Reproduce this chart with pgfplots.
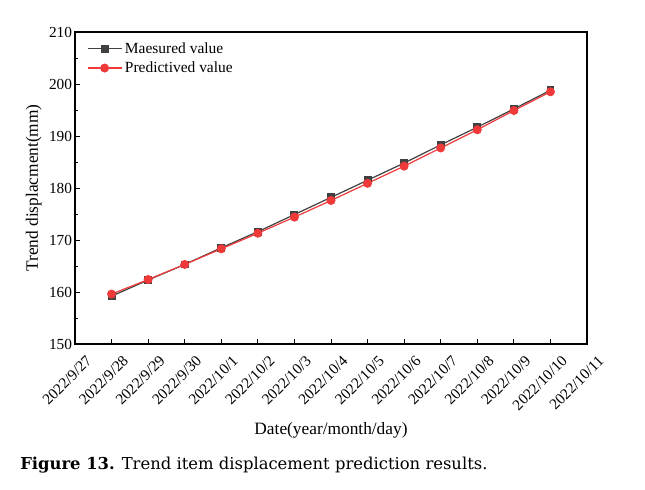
\documentclass[border=0pt]{standalone}
\usepackage{pgfplots}
\pgfplotsset{compat=1.18}
\usepackage{fontspec}
\setmainfont{Liberation Serif}
\newfontfamily\capfont{DejaVu Serif}
\definecolor{meas}{HTML}{404040}
\definecolor{pred}{HTML}{F03A3A}
\begin{document}
\begin{tikzpicture}[x=0.75pt,y=0.75pt]
\path[use as bounding box] (-75,-145) rectangle (570,344);
\begin{axis}[
  at={(0,0)}, anchor=south west,
  scale only axis, width=384pt, height=234pt,
  xmin=0, xmax=14, ymin=150, ymax=210,
  xtick={0,...,14},
  xticklabels={2022/9/27,2022/9/28,2022/9/29,2022/9/30,2022/10/1,2022/10/2,2022/10/3,2022/10/4,2022/10/5,2022/10/6,2022/10/7,2022/10/8,2022/10/9,2022/10/10,2022/10/11},
  x tick label style={rotate=45, anchor=north east, font=\fontsize{11.5}{12}\selectfont, inner sep=1pt, xshift=1pt, yshift=-10pt},
  ytick={150,160,...,210},
  minor y tick num=1,
  y tick label style={font=\fontsize{11.5}{12}\selectfont, inner sep=2pt},
  tick align=inside,
  xtick pos=bottom, ytick pos=left,
  major tick length=4pt, minor tick length=2.5pt,
  /pgf/number format/assume math mode=true,
  xlabel={Date(year/month/day)}, ylabel={Trend displacment(mm)},
  label style={font=\fontsize{13}{14}\selectfont},
  xlabel style={at={(axis description cs:0.5,0)}, anchor=north, yshift=-55pt},
  ylabel style={yshift=0pt},
  axis line style={line width=0.8pt},
  tick style={line width=0.6pt, black},
  legend style={draw=none, fill=none, at={(0.015,0.985)}, anchor=north west, font=\fontsize{11.6}{13}\selectfont, row sep=1pt},
  legend cell align=left,
  legend image code/.code={\draw[mark repeat=2,mark phase=2] plot coordinates {(0cm,0cm) (0.45cm,0cm) (0.9cm,0cm)};},
]
\addplot[color=meas, line width=0.9pt, mark=square*, mark size=2.5pt, mark options={fill=meas}] coordinates {
(1,159.2) (2,162.3) (3,165.3) (4,168.5) (5,171.6) (6,174.9) (7,178.2) (8,181.5) (9,184.8) (10,188.3) (11,191.7) (12,195.2) (13,198.8)};
\addlegendentry{Maesured value}
\addplot[color=pred, line width=0.9pt, mark=*, mark size=2.9pt, mark options={fill=pred}] coordinates {
(1,159.6) (2,162.4) (3,165.3) (4,168.3) (5,171.3) (6,174.4) (7,177.6) (8,180.9) (9,184.2) (10,187.7) (11,191.2) (12,194.9) (13,198.5)};
\addlegendentry{Predictived value}
\end{axis}
\node[anchor=west, font=\capfont\fontsize{12.3}{14}\selectfont, inner sep=0pt] at (-55,-121) {\textbf{Figure 13.} Trend item displacement prediction results.};
\end{tikzpicture}
\end{document}
